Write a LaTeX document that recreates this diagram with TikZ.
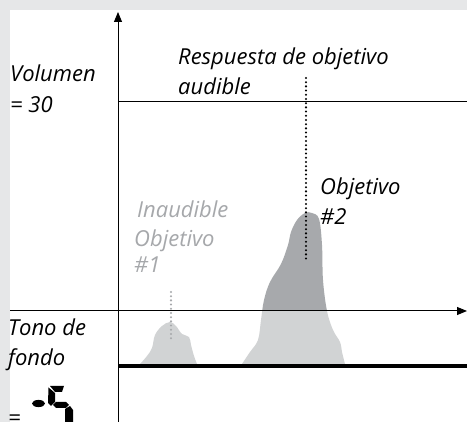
\documentclass[tikz,border=0pt]{standalone}
\usepackage{fontspec}
\setmainfont{Open Sans}
\usetikzlibrary{arrows.meta}
\definecolor{bggray}{HTML}{E6E7E8}
\definecolor{lightpeak}{HTML}{D1D3D4}
\definecolor{darkpeak}{HTML}{A7A9AC}
\definecolor{faint}{HTML}{A6A8AB}
\tikzset{
  lbl/.style={anchor=base west, inner sep=0pt, font=\fontsize{22}{22}\selectfont\itshape},
  faintlbl/.style={lbl, text=faint},
  axis/.style={line width=1pt, -{Triangle[length=10pt,width=8pt]}},
  thinline/.style={line width=0.9pt},
  dots/.style={line width=2.3pt, line cap=round, dash pattern=on 0pt off 4.2pt},
}
\begin{document}
\begin{tikzpicture}[x=1pt,y=-1pt]
\useasboundingbox (0,0) rectangle (467,422);
\fill[bggray] (0,0) rectangle (467,422);
\fill[white] (10,10) rectangle (467,422);
% peaks
\fill[lightpeak] plot[smooth, tension=0.6] coordinates {(140,364) (147,356) (152,348) (155,335) (162,326) (170,322) (176,326) (182,334) (189,337) (191,345) (194,356) (197,364)} -- cycle;
\def\peaktwo{plot[smooth, tension=0.6] coordinates {(242,364) (250,352) (258,340) (261,320) (264,300) (270,282) (281,264) (288,245) (291,232) (297,220) (305,213) (312,213) (319,219) (322,245) (323,280) (327,311) (333,330) (340,342) (342,352) (345,364)} -- cycle}
\begin{scope}
\clip (0,311) rectangle (467,422);
\fill[lightpeak] \peaktwo;
\end{scope}
\begin{scope}
\clip (0,0) rectangle (467,311);
\fill[darkpeak] \peaktwo;
\end{scope}
% axes and lines
\coordinate (yb) at (118,422);
\coordinate (yt) at (118,12);
\coordinate (xl) at (10,311);
\coordinate (xr) at (467,311);
\coordinate (vl) at (118,101);
\coordinate (vr) at (467,101);
\coordinate (bl) at (118,366);
\coordinate (br) at (467,366);
\draw[axis] (yb) -- (yt);
\draw[axis] (xl) -- (xr);
\draw[thinline] (vl) -- (vr);
\draw[line width=4pt] (bl) -- (br);
% dotted lines
\coordinate (d1t) at (171,292);
\coordinate (d1b) at (171,340);
\coordinate (d2t) at (306,78);
\coordinate (d2b) at (306,262);
\draw[dots, faint] (d1t) -- (d1b);
\draw[dots, black] (d2t) -- (d2b);
% labels
\node[lbl] (vol1) at (10,82) {Volumen};
\node[lbl] (vol2) at (10,113) {= 30};
\node[lbl] (resp1) at (178,65) {Respuesta de objetivo};
\node[lbl] (resp2) at (178,95) {audible};
\node[lbl] (obj2a) at (320,195) {Objetivo};
\node[lbl] (obj2b) at (320,225) {\#2};
\node[faintlbl] (obj1a) at (137,218) {Inaudible};
\node[faintlbl] (obj1b) at (134,247) {Objetivo};
\node[faintlbl] (obj1c) at (134,273) {\#1};
\node[lbl] (tono1) at (8,336) {Tono de};
\node[lbl] (tono2) at (8,366) {fondo};
\node[lbl] (tono3) at (8,426) {=};
% seven-segment "-5"
\fill[black] (38.5,403.5) ellipse (6.5pt and 3.6pt);
\fill[black] (50,386) -- (64,386) -- (62,392) -- (55,392) -- cycle;
\fill[black] (48.5,387.5) -- (55,393) -- (55,402) -- (51,406) -- (48,403) -- cycle;
\fill[black] (53,405) -- (56,402) -- (66,402) -- (69,405) -- (66,408) -- (56,408) -- cycle;
\fill[black] (65,409) -- (70,406) -- (73,410) -- (73,422) -- (65,422) -- cycle;
\end{tikzpicture}
\end{document}
